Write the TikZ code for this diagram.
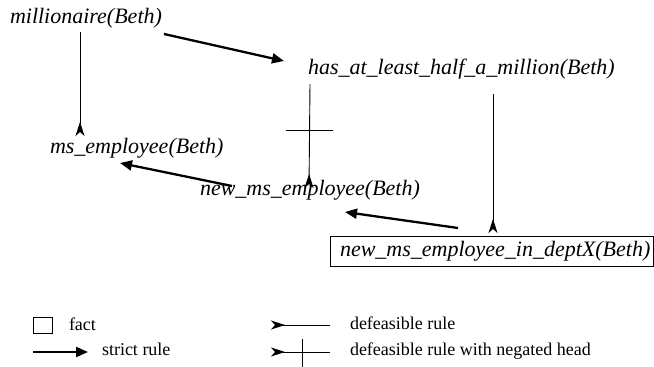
\documentclass[tikz,border=0pt]{standalone}
\usepackage{fontspec}
\setmainfont{Liberation Serif}
\usetikzlibrary{arrows.meta,calc}

\begin{document}
\begin{tikzpicture}[x=1pt,y=-1pt,
  lit/.style={inner sep=0pt, outer sep=0pt, anchor=base west,
              font=\fontsize{22}{24}\selectfont\itshape},
  factbox/.style={lit, draw, line width=0.9pt, inner xsep=0pt, inner ysep=5pt,
                  text height=15pt, text depth=5pt},
  legtext/.style={inner sep=0pt, outer sep=0pt, anchor=base west,
                  font=\fontsize{18}{20}\selectfont},
  strict/.style={line width=2.3pt, -{Triangle[length=12pt,width=10pt]}},
  defeasible/.style={line width=0.9pt,
                     -{Stealth[reversed,length=14pt,width=9pt,inset=4pt]}},
  crossbar/.style={line width=0.9pt}]

\useasboundingbox (0,0) rectangle (654,367);

% literals
\node[lit] (mil) at (10,23) {millionaire(Beth)};
\node[lit] (half) at (308,74) {has\_at\_least\_half\_a\_million(Beth)};
\node[lit] (ms) at (50,153) {ms\_employee(Beth)};
\node[lit] (newms) at (200,195) {new\_ms\_employee(Beth)};
\node[factbox] (dept) at (330,256)
  {\hspace*{10pt}new\_ms\_employee\_in\_deptX(Beth)\hspace*{3pt}};

% strict rules
\draw[strict] ($(mil.base west)+(154,11)$) -- ($(half.base west)+(-24,-13)$);
\draw[strict] ($(newms.base west)+(32,-9)$) -- ($(ms.base west)+(70,10)$);
\draw[strict] ($(dept.base west)+(128,-28)$) -- ($(newms.base west)+(145,17)$);

% defeasible rules
\draw[defeasible] ($(mil.base west)+(70,9)$) -- ($(ms.base west)+(30,-17)$);
\draw[defeasible] ($(half.base west)+(185,20)$) -- ($(dept.north west)+(163,-3)$);

% defeasible rule with negated head
\draw[defeasible] ($(half.base west)+(2,10)$) -- coordinate[pos=0.45] (neg)
      ($(newms.base west)+(109,-7)$);
\draw[crossbar] ([xshift=-24pt]neg) -- ([xshift=23pt]neg);

% legend
\node[draw, line width=0.9pt, inner sep=0pt, minimum width=19pt,
      minimum height=16pt, anchor=north west] (kfact) at (33,317) {};
\node[legtext] (tfact) at (69,330) {fact};

\coordinate (ks1) at (33,352);
\coordinate (ks2) at (88,352);
\draw[strict] (ks1) -- (ks2);
\node[legtext] (tstrict) at (102,355) {strict rule};

\coordinate (kd1) at (330,325);
\coordinate (kd2) at (271,325);
\draw[defeasible] (kd1) -- (kd2);
\node[legtext] (tdef) at (350,329) {defeasible rule};

\coordinate (kn1) at (330,352);
\coordinate (kn2) at (271,352);
\draw[defeasible] (kn1) -- coordinate[pos=0.475] (kneg) (kn2);
\draw[crossbar] ([yshift=-15pt]kneg) -- ([yshift=13pt]kneg);
\node[legtext] (tneg) at (350,355) {defeasible rule with negated head};

\end{tikzpicture}
\end{document}
